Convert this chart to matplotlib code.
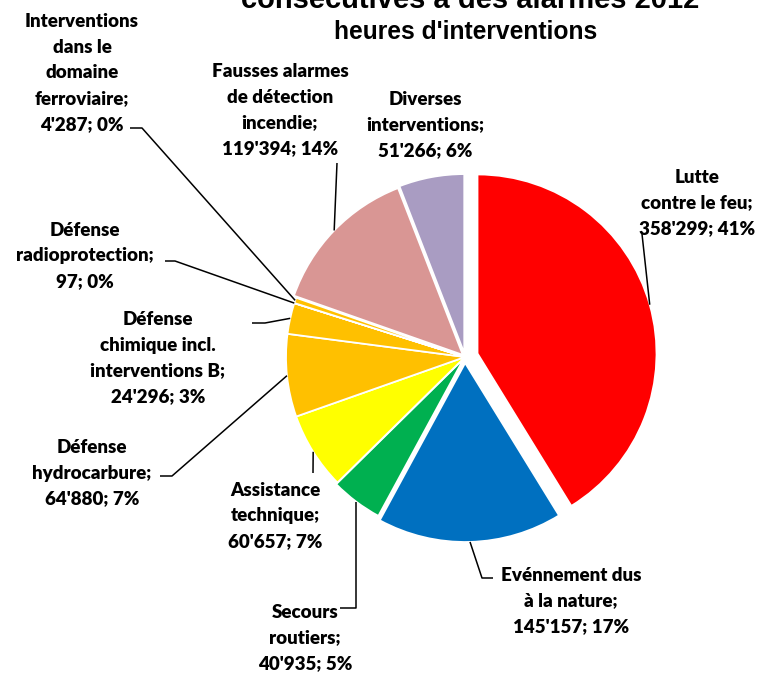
import matplotlib
matplotlib.use("Agg")
import matplotlib.pyplot as plt
import numpy as np

# ---- data ----
categories = [
    "Lutte\ncontre le feu;",
    "Evénnement dus\nà la nature;",
    "Secours\nroutiers;",
    "Assistance\ntechnique;",
    "Défense\nhydrocarbure;",
    "Défense\nchimique incl.\ninterventions B;",
    "Défense\nradioprotection;",
    "Interventions\ndans le\ndomaine\nferroviaire;",
    "Fausses alarmes\nde détection\nincendie;",
    "Diverses\ninterventions;",
]
values = [358299, 145157, 40935, 60657, 64880, 24296, 97, 4287, 119394, 51266]
colors = ["#FF0000", "#0070C0", "#00B050", "#FFFF00", "#FFC000", "#FFC000",
          "#FFC000", "#FFC000", "#D99694", "#A99CC2"]
title_line1 = "consécutives à des alarmes 2012"
title_line2 = "heures d'interventions"

# ---- layout / style (pixels) ----
W, H = 768, 675
explode = [13, 6, 2, 0, 0, 0, 0, 0, 3, 4]
center_px = (465, 357)
radius = 179
label_pos = [(697, 203), (571, 601), (305, 638), (275, 516), (92, 473),
             (158, 358), (85, 256), (82, 73), (280, 110), (425, 125)]
leader_start = [
    [(642, 234)],
    [(493, 578), (482, 578)],
    [(340, 608), ("arc", 608)],
    [(313, 473)],
    [(160, 476), (172, 476)],
    [(252, 323), (265, 323)],
    [(165, 261), (175, 261)],
    [(130, 128), (142, 128)],
    [(337, 163)],
    None,
]

def fmt(v):
    return f"{v:,}".replace(",", "'")

total = sum(values)

fig = plt.figure(figsize=(W / 100, H / 100), dpi=100)
ax = fig.add_axes([0, 0, 1, 1])
wedges, _ = ax.pie(values, colors=colors, startangle=90, counterclock=False,
                   explode=explode, radius=radius,
                   center=(center_px[0], H - center_px[1]),
                   wedgeprops=dict(edgecolor="white", linewidth=1.3))
ax.set_xlim(0, W)
ax.set_ylim(0, H)
ax.set_aspect("equal")
ax.axis("off")

font = dict(family=["Lato", "DejaVu Sans"], weight="heavy", size=13.5)

for i, (w, cat, v) in enumerate(zip(wedges, categories, values)):
    pct = round(v / total * 100)
    txt = f"{cat}\n{fmt(v)}; {pct}%"
    lx, ly = label_pos[i]
    ax.text(lx, H - ly, txt, ha="center", va="center", multialignment="center",
            linespacing=1.62, **font)
    path = leader_start[i]
    if path is None:
        continue
    th = np.deg2rad((w.theta1 + w.theta2) / 2)
    ax_x = w.center[0] + w.r * np.cos(th)
    ax_y = w.center[1] + w.r * np.sin(th)
    xs, ys = [], []
    for (px, py) in path:
        xs.append(ax_x if px == "arc" else px)
        ys.append(H - py)
    xs.append(ax_x)
    ys.append(ax_y)
    ax.plot(xs, ys, color="black", lw=1.1, solid_capstyle="butt")

tfont = dict(family=["Liberation Sans", "DejaVu Sans"], weight="bold")
fig.text(470 / W, 1 - 8 / H, title_line1, ha="center", va="baseline", size=21, **tfont)
fig.text(466 / W, 1 - 39 / H, title_line2, ha="center", va="baseline", size=17.7, **tfont)

fig.savefig("out.png", dpi=100)
